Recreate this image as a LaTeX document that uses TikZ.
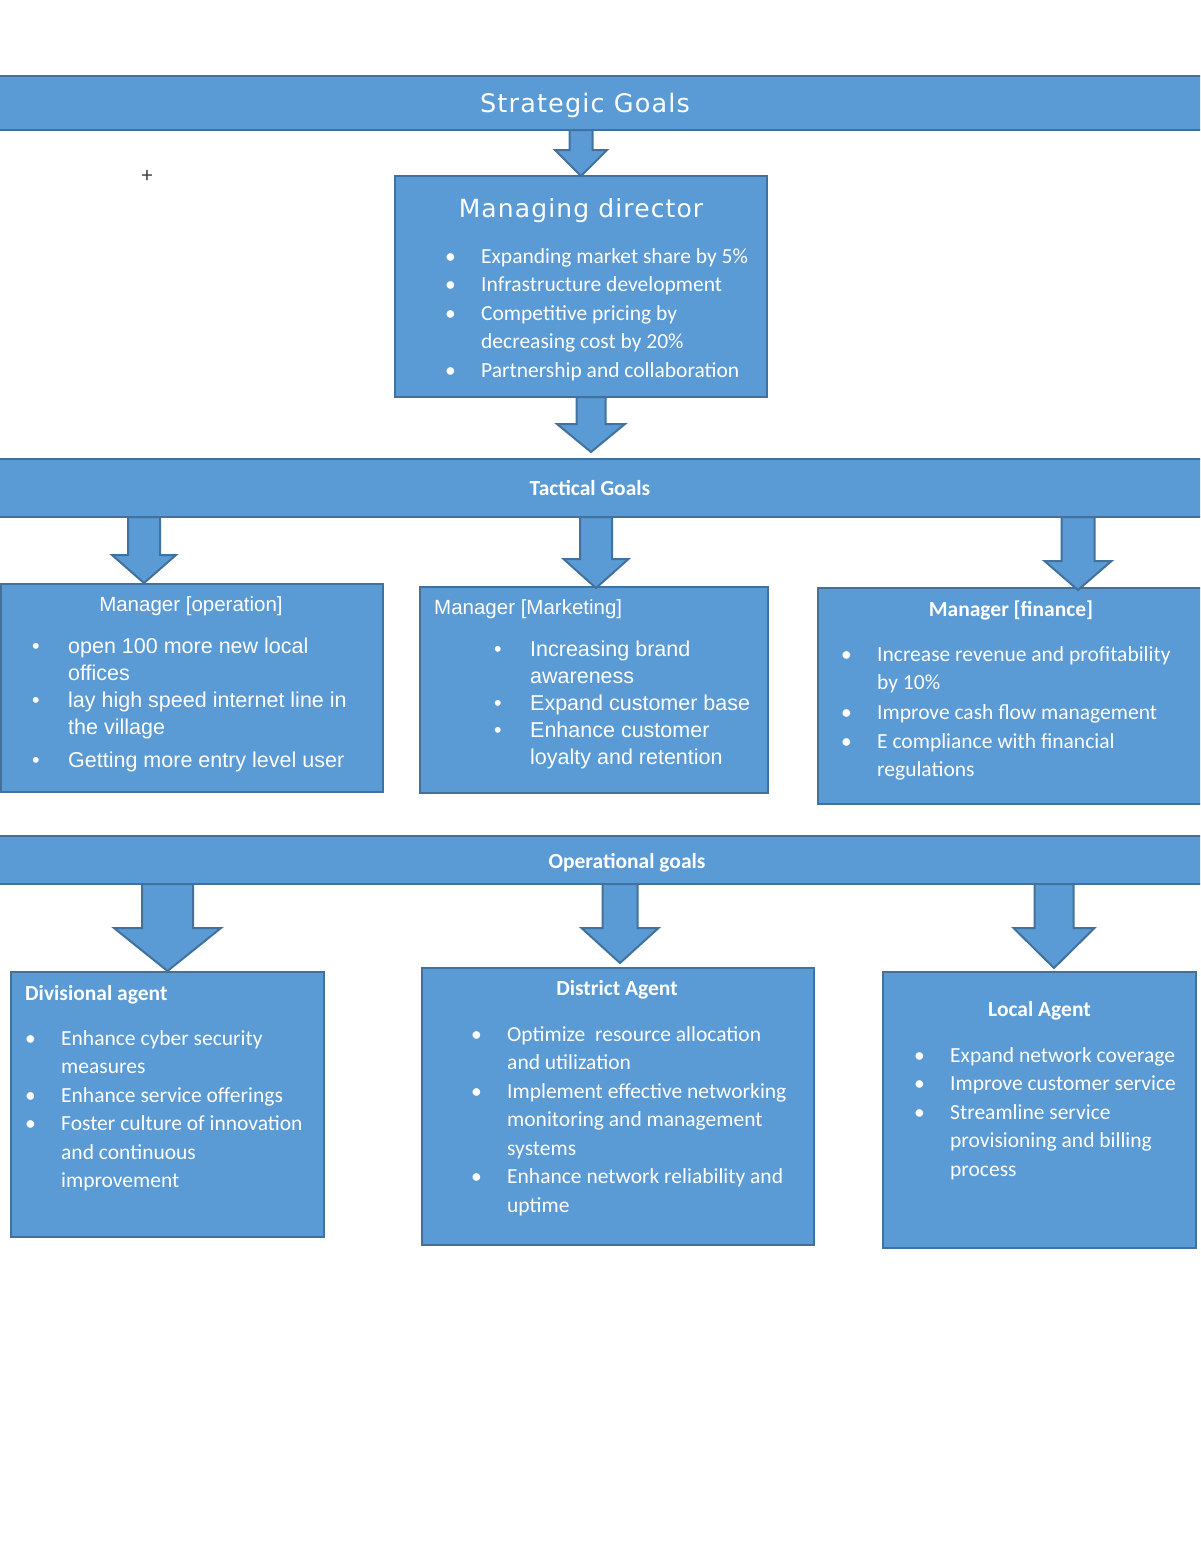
\documentclass[tikz,border=0pt]{standalone}
\usepackage{fontspec}
\setmainfont{Carlito}
\newfontfamily\verd[LetterSpace=4.5]{DejaVu Sans}
\newfontfamily\arial{Liberation Sans}
\usetikzlibrary{calc,positioning}

\definecolor{goalblue}{HTML}{5B9BD5}
\definecolor{goalline}{HTML}{41719C}

\newcommand\itm[1]{\makebox[36pt][l]{\textbullet}#1}
\newcommand\cnt[1]{\hspace*{36pt}#1}
\newcommand\sinktext[2]{\raisebox{-#1}[\height][\depth]{#2}}
% block arrow: top, tip, shaft half width, head half width, head length
\newcommand\blkarrow[5]{%
  \path[blockarrow] let \p1=(#1), \p2=(#2) in
    (\x2-#3,\y1) -- (\x2+#3,\y1) -- (\x2+#3,\y2+#5) -- (\x2+#4,\y2+#5)
    -- (\x2,\y2) -- (\x2-#4,\y2+#5) -- (\x2-#3,\y2+#5) -- cycle;}

\begin{document}
\begin{tikzpicture}[
  x=1pt, y=-1pt,
  bar/.style={draw=goalline, fill=goalblue, line width=2.2pt, minimum width=1280pt,
              text=white, inner sep=0pt, outer sep=0pt},
  box/.style={draw=goalline, fill=goalblue, line width=2.2pt, inner sep=0pt, outer sep=0pt},
  boxtitle/.style={text=white, inner sep=0pt, font=\fontsize{21.5}{26}\selectfont\bfseries},
  itemlist/.style={text=white, inner sep=0pt, align=left, anchor=north west,
                   font=\fontsize{21.5}{28.5}\selectfont},
  blockarrow/.style={draw=goalline, fill=goalblue, line width=2pt, line join=miter}
]
\useasboundingbox (0,0) rectangle (1200,1553);
\clip (0,0) rectangle (1200,1553);

% goal bars
\node[bar, minimum height=54pt, font=\verd\fontsize{25.5}{30}\selectfont] (strat) at (585,103) {\sinktext{2pt}{Strategic Goals}};
\node[bar, minimum height=58pt, font=\fontsize{21.5}{26}\selectfont\bfseries] (tac) at (590,488) {Tactical Goals};
\node[bar, minimum height=48pt, font=\fontsize{21.5}{26}\selectfont\bfseries] (op) at (627,860) {\sinktext{3pt}{Operational goals}};

% managing director
\node[box, minimum width=372pt, minimum height=221pt] (md) at (581,286.5) {};
\node[boxtitle, font=\verd\fontsize{25}{30}\selectfont] (mdt) at ([yshift=-35pt]md.north) {Managing director};
\node[itemlist] (mdl) at ([xshift=50pt,yshift=-72pt]md.north west) {%
  \itm{Expanding market share by 5\%}\\
  \itm{Infrastructure development}\\
  \itm{Competitive pricing by}\\
  \cnt{decreasing cost by 20\%}\\
  \itm{Partnership and collaboration}};

% managers
\node[box, minimum width=382pt, minimum height=208pt] (mop) at (192,688) {};
\node[boxtitle, font=\arial\fontsize{20.5}{24}\selectfont] (mopt) at ([xshift=-1pt,yshift=-22pt]mop.north) {Manager [operation]};
\node[itemlist, font=\arial\fontsize{21.5}{27}\selectfont] (mopl) at ([xshift=31pt,yshift=-54pt]mop.north west) {%
  \itm{open 100 more new local}\\
  \cnt{offices}\\
  \itm{lay high speed internet line in}\\
  \cnt{the village}\\[6pt]
  \itm{Getting more entry level user}};

\node[box, minimum width=348pt, minimum height=206pt] (mmk) at (594,690) {};
\node[boxtitle, font=\arial\fontsize{20.5}{24}\selectfont, anchor=west] (mmkt) at ([xshift=14pt,yshift=-22pt]mmk.north west) {Manager [Marketing]};
\node[itemlist, font=\arial\fontsize{21.5}{27}\selectfont] (mmkl) at ([xshift=74pt,yshift=-54pt]mmk.north west) {%
  \itm{Increasing brand}\\
  \cnt{awareness}\\
  \itm{Expand customer base}\\
  \itm{Enhance customer}\\
  \cnt{loyalty and retention}};

\node[box, minimum width=392pt, minimum height=216pt] (mfin) at (1014,696) {};
\node[boxtitle] (mfint) at ([xshift=-3pt,yshift=-22pt]mfin.north) {Manager [finance]};
\node[itemlist] (mfinl) at ([xshift=23pt,yshift=-58pt]mfin.north west) {%
  \itm{Increase revenue and profitability}\\
  \cnt{by 10\%}\\[1.5pt]
  \itm{Improve cash flow management}\\
  \itm{E compliance with financial}\\
  \cnt{regulations}};

% agents
\node[box, minimum width=313pt, minimum height=265pt] (div) at (167.5,1104.5) {};
\node[boxtitle, anchor=west] (divt) at ([xshift=14pt,yshift=-23pt]div.north west) {Divisional agent};
\node[itemlist] (divl) at ([xshift=14pt,yshift=-58pt]div.north west) {%
  \itm{Enhance cyber security}\\
  \cnt{measures}\\
  \itm{Enhance service offerings}\\
  \itm{Foster culture of innovation}\\
  \cnt{and continuous}\\
  \cnt{improvement}};

\node[box, minimum width=392pt, minimum height=277pt] (dist) at (618,1106.5) {};
\node[boxtitle] (distt) at ([xshift=-1pt,yshift=-22pt]dist.north) {District Agent};
\node[itemlist] (distl) at ([xshift=49pt,yshift=-58pt]dist.north west) {%
  \itm{Optimize\ \ resource allocation}\\
  \cnt{and utilization}\\
  \itm{Implement effective networking}\\
  \cnt{monitoring and management}\\
  \cnt{systems}\\
  \itm{Enhance network reliability and}\\
  \cnt{uptime}};

\node[box, minimum width=313pt, minimum height=276pt] (loc) at (1039.5,1110) {};
\node[boxtitle] (loct) at ([xshift=0pt,yshift=-39pt]loc.north) {Local Agent};
\node[itemlist] (locl) at ([xshift=31pt,yshift=-75pt]loc.north west) {%
  \itm{Expand network coverage}\\
  \itm{Improve customer service}\\
  \itm{Streamline service}\\
  \cnt{provisioning and billing}\\
  \cnt{process}};

% arrow tips
\coordinate (tipmd)  at (md.north);
\coordinate (tiptac) at (591,452);
\coordinate (tipop)  at ([xshift=-48pt,yshift=1pt]mop.north);
\coordinate (tipmk)  at ([xshift=2pt,yshift=-1pt]mmk.north);
\coordinate (tipfin) at ([xshift=64pt,yshift=-2pt]mfin.north);
\coordinate (tipdiv) at ([yshift=1pt]div.north);
\coordinate (tipdis) at ([xshift=2pt,yshift=5pt]dist.north);
\coordinate (tiploc) at ([xshift=14.5pt,yshift=4pt]loc.north);

\blkarrow{strat.south}{tipmd}{11.5pt}{26pt}{26pt}
\blkarrow{md.south}{tiptac}{14.5pt}{34pt}{28pt}
\blkarrow{tac.south}{tipop}{16pt}{32pt}{28pt}
\blkarrow{tac.south}{tipmk}{16pt}{32.5pt}{29pt}
\blkarrow{tac.south}{tipfin}{16.5pt}{33.5pt}{29pt}
\blkarrow{op.south}{tipdiv}{25.5pt}{53.5pt}{43pt}
\blkarrow{op.south}{tipdis}{17.5pt}{38.5pt}{35pt}
\blkarrow{op.south}{tiploc}{19.5pt}{40.5pt}{40pt}

\node[inner sep=0pt, text=black!75, font=\fontsize{22}{22}\selectfont] (plus) at (147,176) {+};
\end{tikzpicture}
\end{document}
